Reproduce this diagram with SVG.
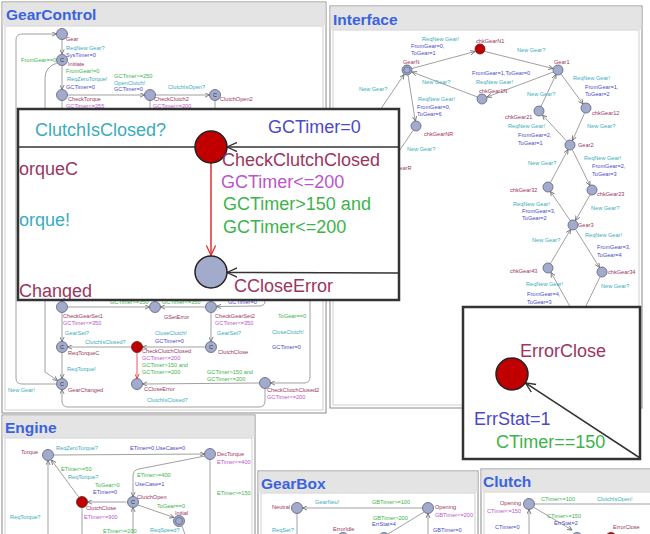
<svg xmlns="http://www.w3.org/2000/svg" width="650" height="534" viewBox="0 0 650 534">
<defs>
<marker id="a" viewBox="0 0 8 8" refX="7.5" refY="4" markerWidth="5" markerHeight="5" orient="auto" markerUnits="userSpaceOnUse"><path d="M0,0.5 L7.5,4 L0,7.5" fill="none" stroke="#6a6a6a" stroke-width="1.3"/></marker>
<marker id="ar" viewBox="0 0 8 8" refX="7.5" refY="4" markerWidth="5" markerHeight="5" orient="auto" markerUnits="userSpaceOnUse"><path d="M0,0.5 L7.5,4 L0,7.5" fill="none" stroke="#e03030" stroke-width="1.3"/></marker>
<marker id="A" viewBox="0 0 12 12" refX="11" refY="6" markerWidth="11" markerHeight="11" orient="auto" markerUnits="userSpaceOnUse"><path d="M0,1 L11,6 L0,11" fill="none" stroke="#333" stroke-width="1.4"/></marker>
<marker id="AR" viewBox="0 0 12 12" refX="11" refY="6" markerWidth="11" markerHeight="11" orient="auto" markerUnits="userSpaceOnUse"><path d="M0,1 L11,6 L0,11" fill="none" stroke="#e03030" stroke-width="1.4"/></marker>
<clipPath id="ci"><rect x="19" y="110" width="379" height="189"/></clipPath>
</defs>
<style>
text{font-family:"Liberation Sans",Arial,sans-serif}
.s{font-size:5.6px}
.L{font-size:18px}
.n{fill:#9c3560}.y{fill:#3aacbc}.b{fill:#4a4ac8}.g{fill:#3cb44a}.i{fill:#bb55cc}
.ti{font-size:15.5px;font-weight:bold;fill:#3b63e0}
.nd{fill:#a3abcc;stroke:#5a6080;stroke-width:0.8}
.rd{fill:#c00000;stroke:#5a2020;stroke-width:0.8}
.e{fill:none;stroke:#888;stroke-width:0.8}
.er{fill:none;stroke:#e03030;stroke-width:0.8}
.c{font-size:5.5px;fill:#333;text-anchor:middle}
.pan{fill:#fff;stroke:#8a8a8a;stroke-width:1}
.hd{fill:#e4e4e4}
.cv{fill:#fff;stroke:#c4c4c4;stroke-width:0.8}
.bx{fill:#fff;stroke:#333;stroke-width:2.5}
.bl{fill:none;stroke:#333;stroke-width:1.5}
.bn{fill:#a3abcc;stroke:#222;stroke-width:1.5}
.br{fill:#c00000;stroke:#222;stroke-width:1.5}
</style>
<rect width="650" height="534" fill="#fff"/>

<!-- ===== GearControl panel ===== -->
<g id="panel-gearcontrol">
<rect class="pan" x="2" y="2" width="324" height="411"/>
<rect class="hd" x="2.5" y="2.5" width="323" height="23"/>
<rect class="cv" x="5" y="26" width="318" height="384"/>
<text class="ti" x="6" y="20">GearControl</text>
</g>
<g id="gc-connectors">
<path class="e" d="M62,39.5 L62,54" marker-end="url(#a)"/>
<path class="e" d="M62,66 L62,89.5" marker-end="url(#a)"/>
<path class="e" d="M67.5,95 L144.5,95" marker-end="url(#a)"/>
<path class="e" d="M155.5,95 L209.5,95" marker-end="url(#a)"/>
<path class="e" d="M62,100.5 L62,301.5" marker-end="url(#a)"/>
<path class="e" d="M150,100.5 L150,140"/>
<path class="e" d="M215,100.5 L215,120 L304,130 Q310,131 310,137 L310,377 Q310,383 304,383 L270.5,383" marker-end="url(#a)"/>
<path class="e" d="M56.5,384 L22,384 Q16,384 16,378 L16,40 Q16,34 22,34 L56.5,34" marker-end="url(#a)"/>
<path class="e" d="M57,63 Q45,67 45,78 L45,372 L57.5,380.5" marker-end="url(#a)"/>
<path class="e" d="M67.5,307 L149.5,307" marker-end="url(#a)"/>
<path class="e" d="M205.5,307 L160.5,307" marker-end="url(#a)"/>
<path class="e" d="M265,290 L265,301 Q265,306 259,306 L216.5,306.5" marker-end="url(#a)"/>
<path class="e" d="M62,312.5 L62,341.5" marker-end="url(#a)"/>
<path class="e" d="M211,312.5 L211,341.5" marker-end="url(#a)"/>
<path class="e" d="M205.5,347 L142.5,347" marker-end="url(#a)"/>
<path class="e" d="M131.5,347 L67.5,347" marker-end="url(#a)"/>
<path class="e" d="M62,352.5 L62,378.5" marker-end="url(#a)"/>
<path class="er" d="M137,352.5 L137,378.5" marker-end="url(#ar)"/>
<path class="e" d="M259.5,383 L142.5,384" marker-end="url(#a)"/>
<path class="e" d="M265,388.5 L265,401 Q265,407 259,407 L68,407 Q62,407 62,401 L62,389.5" marker-end="url(#a)"/>
</g>
<g id="gc-nodes">
<g id="gc-gear"><circle class="nd" cx="62" cy="34" r="5.5"/></g>
<g id="gc-initiate"><circle class="nd" cx="62" cy="60" r="5.5"/><text class="c" x="62" y="62">C</text></g>
<g id="gc-checktorque"><circle class="nd" cx="62" cy="95" r="5.5"/></g>
<g id="gc-checkclutch2"><circle class="nd" cx="150" cy="95" r="5.5"/></g>
<g id="gc-clutchopen2"><circle class="nd" cx="215" cy="95" r="5.5"/><text class="c" x="215" y="97">C</text></g>
<g id="gc-checkgearset1"><circle class="nd" cx="62" cy="307" r="5.5"/></g>
<g id="gc-gseterror"><circle class="nd" cx="155" cy="307" r="5.5"/></g>
<g id="gc-checkgearset2"><circle class="nd" cx="211" cy="307" r="5.5"/></g>
<g id="gc-reqtorquec"><circle class="nd" cx="62" cy="347" r="5.5"/><text class="c" x="62" y="349">C</text></g>
<g id="gc-checkclutchclosed"><circle class="rd" cx="137" cy="347" r="5.5"/></g>
<g id="gc-clutchclose"><circle class="nd" cx="211" cy="347" r="5.5"/><text class="c" x="211" y="349">C</text></g>
<g id="gc-gearchanged"><circle class="nd" cx="62" cy="384" r="5.5"/><text class="c" x="62" y="386">C</text></g>
<g id="gc-ccloseerror"><circle class="nd" cx="137" cy="384" r="5.5"/></g>
<g id="gc-checkclutchclosed2"><circle class="nd" cx="265" cy="383" r="5.5"/></g>
</g>
<g id="gc-labels" class="s">
<text class="n" x="66" y="41">Gear</text>
<text class="y" x="66" y="50">ReqNew Gear?</text>
<text class="b" x="66" y="56.5">SysTimer=0</text>
<text class="g" x="21" y="62">FromGear==0</text>
<text class="n" x="68" y="66">Initiate</text>
<text class="g" x="66" y="73">FromGear!=0</text>
<text class="y" x="67" y="81">ReqZeroTorque!</text>
<text class="b" x="66" y="89">GCTimer=0</text>
<text class="g" x="114" y="78">GCTimer>=250</text>
<text class="y" x="114" y="84.5">OpenClutch!</text>
<text class="b" x="114" y="91">GCTimer=0</text>
<text class="y" x="168" y="89">ClutchIsOpen?</text>
<text class="n" x="68" y="101">CheckTorque</text>
<text class="i" x="66" y="108">GCTimer&lt;=255</text>
<text class="n" x="154" y="101">CheckClutch2</text>
<text class="i" x="153" y="108">GCTimer&lt;=200</text>
<text class="n" x="220" y="101">ClutchOpen2</text>
<text class="g" x="110" y="304">GCTimer>=350</text>
<text class="g" x="162" y="304">GCTimer&lt;=350</text>
<text class="b" x="228" y="304">GCTimer=0</text>
<text class="n" x="63" y="318">CheckGearSet1</text>
<text class="i" x="63" y="325">GCTimer&lt;=350</text>
<text class="n" x="164" y="319">GSetError</text>
<text class="n" x="215" y="318">CheckGearSet2</text>
<text class="i" x="215" y="325">GCTimer&lt;=350</text>
<text class="g" x="278" y="318">ToGear==0</text>
<text class="y" x="65" y="335">GearSet?</text>
<text class="y" x="155" y="335">CloseClutch!</text>
<text class="b" x="155" y="343">GCTimer=0</text>
<text class="y" x="217" y="335">GearSet?</text>
<text class="y" x="272" y="334">CloseClutch!</text>
<text class="b" x="272" y="349">GCTimer=0</text>
<text class="y" x="85" y="344">ClutchIsClosed?</text>
<text class="n" x="68" y="355">ReqTorqueC</text>
<text class="n" x="142" y="353">CheckClutchClosed</text>
<text class="i" x="142" y="360">GCTimer&lt;=200</text>
<text class="g" x="142" y="366.5">GCTimer>150 and</text>
<text class="g" x="142" y="374">GCTimer&lt;=200</text>
<text class="n" x="218" y="354">ClutchClose</text>
<text class="y" x="67" y="371">ReqTorque!</text>
<text class="g" x="207" y="374">GCTimer>150 and</text>
<text class="g" x="207" y="381">GCTimer&lt;=200</text>
<text class="y" x="8" y="392">New Gear!</text>
<text class="n" x="68" y="392">GearChanged</text>
<text class="n" x="144" y="391">CCloseError</text>
<text class="n" x="267" y="392">CheckClutchClosed2</text>
<text class="i" x="267" y="399">GCTimer&lt;=200</text>
<text class="y" x="147" y="402">ClutchIsClosed?</text>
</g>

<!-- ===== Interface panel ===== -->
<g id="panel-interface">
<rect class="pan" x="330" y="6" width="312" height="402"/>
<rect class="hd" x="330.5" y="6.5" width="311" height="23"/>
<rect class="cv" x="333" y="30" width="306" height="375"/>
<text class="ti" x="333" y="25">Interface</text>
</g>
<g id="if-connectors">
<path class="e" d="M412,68.5 L475,51.5" marker-end="url(#a)"/>
<path class="e" d="M485,51.5 L553,68.5" marker-end="url(#a)"/>
<path class="e" d="M553.5,72 L487,97" marker-end="url(#a)"/>
<path class="e" d="M477.5,97 L412,72" marker-end="url(#a)"/>
<path class="e" d="M408,75 L415.3,121" marker-end="url(#a)"/>
<path class="e" d="M413,130.5 L385,172"/>
<path class="e" d="M368,128 L404,74.5" marker-end="url(#a)"/>
<path class="e" d="M561,74 L583,104" marker-end="url(#a)"/>
<path class="e" d="M584.5,113 L572.5,140.5" marker-end="url(#a)"/>
<path class="e" d="M567,141.5 L542.5,115" marker-end="url(#a)"/>
<path class="e" d="M541,106.5 L556,74.5" marker-end="url(#a)"/>
<path class="e" d="M572.5,150 L590,185.5" marker-end="url(#a)"/>
<path class="e" d="M590,195 L575.5,220.5" marker-end="url(#a)"/>
<path class="e" d="M570.5,221 L550.5,191.5" marker-end="url(#a)"/>
<path class="e" d="M550.5,182.5 L568,149.5" marker-end="url(#a)"/>
<path class="e" d="M576,230 L599.5,267.5" marker-end="url(#a)"/>
<path class="e" d="M600,277 L583,312"/>
<path class="e" d="M573,312 L551,272.5" marker-end="url(#a)"/>
<path class="e" d="M550.5,263.5 L570.5,229.5" marker-end="url(#a)"/>
</g>
<g id="if-nodes">
<g id="if-chkgearn1"><circle class="rd" cx="480" cy="49" r="5"/></g>
<g id="if-gearn"><circle class="nd" cx="407" cy="70" r="5"/><circle fill="none" stroke="#5a6080" stroke-width="0.7" cx="407" cy="70" r="3.2"/></g>
<g id="if-gear1"><circle class="nd" cx="558" cy="70" r="5"/></g>
<g id="if-chkgear1n"><circle class="nd" cx="482" cy="99" r="5"/></g>
<g id="if-chkgearnr"><circle class="nd" cx="416" cy="126" r="5"/></g>
<g id="if-chkgear12"><circle class="nd" cx="586" cy="108" r="5"/></g>
<g id="if-chkgear21"><circle class="nd" cx="539" cy="111" r="5"/></g>
<g id="if-gear2"><circle class="nd" cx="570" cy="145" r="5"/></g>
<g id="if-chkgear32"><circle class="nd" cx="548" cy="187" r="5"/></g>
<g id="if-chkgear23"><circle class="nd" cx="592" cy="190" r="5"/></g>
<g id="if-gear3"><circle class="nd" cx="573" cy="225" r="5"/></g>
<g id="if-chkgear43"><circle class="nd" cx="548" cy="268" r="5"/></g>
<g id="if-chkgear34"><circle class="nd" cx="602" cy="272" r="5"/></g>
</g>
<g id="if-labels" class="s">
<text class="y" x="422" y="41">ReqNew Gear!</text>
<text class="b" x="411" y="48">FromGear=0,</text>
<text class="b" x="411" y="55">ToGear=1</text>
<text class="n" x="476" y="43">chkGearN1</text>
<text class="y" x="517" y="52">New Gear?</text>
<text class="n" x="403" y="64">GearN</text>
<text class="n" x="554" y="64">Gear1</text>
<text class="b" x="472" y="75">FromGear=1,ToGear=0</text>
<text class="y" x="476" y="84">ReqNew Gear!</text>
<text class="y" x="422" y="84">New Gear?</text>
<text class="n" x="479" y="93">chkGear1N</text>
<text class="y" x="359" y="91">New Gear?</text>
<text class="y" x="573" y="80">ReqNew Gear!</text>
<text class="b" x="585" y="89">FromGear=1,</text>
<text class="b" x="585" y="96">ToGear=2</text>
<text class="y" x="527" y="96">New Gear?</text>
<text class="y" x="418" y="101">ReqNew Gear!</text>
<text class="b" x="417" y="109">FromGear=0,</text>
<text class="b" x="417" y="116">ToGear=6</text>
<text class="n" x="592" y="115">chkGear12</text>
<text class="n" x="505" y="119">chkGear21</text>
<text class="y" x="508" y="128">ReqNew Gear!</text>
<text class="y" x="587" y="128">New Gear?</text>
<text class="n" x="424" y="136">chkGearNR</text>
<text class="b" x="518" y="137">FromGear=2,</text>
<text class="b" x="518" y="145">ToGear=1</text>
<text class="n" x="578" y="147">Gear2</text>
<text class="y" x="407" y="151">New Gear?</text>
<text class="n" x="395" y="170">GearR</text>
<text class="y" x="528" y="165">New Gear?</text>
<text class="y" x="584" y="160">ReqNew Gear!</text>
<text class="b" x="592" y="168">FromGear=2,</text>
<text class="b" x="592" y="176">ToGear=3</text>
<text class="n" x="510" y="192">chkGear32</text>
<text class="n" x="597" y="196">chkGear23</text>
<text class="y" x="513" y="206">ReqNew Gear!</text>
<text class="b" x="522" y="213">FromGear=3,</text>
<text class="b" x="522" y="220">ToGear=2</text>
<text class="y" x="591" y="210">New Gear?</text>
<text class="n" x="578" y="227">Gear3</text>
<text class="y" x="585" y="237">ReqNew Gear!</text>
<text class="y" x="532" y="242">New Gear?</text>
<text class="b" x="597" y="249">FromGear=3,</text>
<text class="b" x="597" y="257">ToGear=4</text>
<text class="n" x="510" y="273">chkGear43</text>
<text class="n" x="608" y="274">chkGear34</text>
<text class="y" x="526" y="286">ReqNew Gear!</text>
<text class="y" x="601" y="288">New Gear?</text>
<text class="b" x="527" y="296">FromGear=4,</text>
<text class="b" x="527" y="304">ToGear=3</text>
</g>

<!-- ===== Engine panel ===== -->
<g id="panel-engine">
<rect class="pan" x="2" y="415" width="253" height="125"/>
<rect class="hd" x="2.5" y="415.5" width="252" height="22"/>
<rect class="cv" x="5" y="438" width="247" height="100"/>
<text class="ti" x="5" y="433">Engine</text>
</g>
<g id="en-connectors">
<path class="e" d="M53.5,455 L204.5,454" marker-end="url(#a)"/>
<path class="e" d="M205,456 L139,469 Q133,470 133,476 L133,496.5" marker-end="url(#a)"/>
<path class="e" d="M126.5,502 L87.5,502" marker-end="url(#a)"/>
<path class="e" d="M79,497.5 L51.5,460" marker-end="url(#a)"/>
<path class="e" d="M138,505 L174,517.5" marker-end="url(#a)"/>
<path class="e" d="M48,540 L48,460.5" marker-end="url(#a)"/>
<path class="e" d="M82,507.5 L82,540"/>
<path class="e" d="M133,540 L133,507.5" marker-end="url(#a)"/>
<path class="e" d="M210,459.5 L210,540"/>
<path class="e" d="M182,526 L187,540"/>
</g>
<g id="en-nodes">
<g id="en-torque"><circle class="nd" cx="48" cy="455" r="5.5"/></g>
<g id="en-dectorque"><circle class="nd" cx="210" cy="454" r="5.5"/></g>
<g id="en-clutchclose"><circle class="rd" cx="82" cy="502" r="5.5"/></g>
<g id="en-clutchopen"><circle class="nd" cx="133" cy="502" r="5.5"/><text class="c" x="133" y="504">C</text></g>
<g id="en-initial"><circle class="nd" cx="179" cy="521" r="5.5"/><circle fill="none" stroke="#5a6080" stroke-width="0.7" cx="179" cy="521" r="3.5"/></g>
</g>
<g id="en-labels" class="s">
<text class="n" x="21" y="454">Torque</text>
<text class="y" x="56" y="450">ReqZeroTorque?</text>
<text class="b" x="130" y="450">ETimer=0,UseCase=0</text>
<text class="n" x="217" y="456">DecTorque</text>
<text class="i" x="217" y="464">ETimer&lt;=400</text>
<text class="g" x="61" y="471">ETimer>=50</text>
<text class="y" x="68" y="479">ReqTorque?</text>
<text class="g" x="137" y="477">ETimer>=400</text>
<text class="b" x="135" y="486">UseCase=1</text>
<text class="g" x="95" y="487">ToGear>0</text>
<text class="b" x="93" y="494">ETimer=0</text>
<text class="g" x="217" y="495">ETimer>=150</text>
<text class="n" x="137" y="499">ClutchOpen</text>
<text class="n" x="86" y="510">ClutchClose</text>
<text class="i" x="84" y="519">ETimer&lt;=900</text>
<text class="g" x="157" y="508">ToGear==0</text>
<text class="n" x="175" y="515">Initial</text>
<text class="y" x="10" y="519">ReqTorque?</text>
<text class="g" x="103" y="533">ETimer>=200</text>
<text class="y" x="150" y="532">ReqSpeed?</text>
</g>

<!-- ===== GearBox panel ===== -->
<g id="panel-gearbox">
<rect class="pan" x="258" y="471" width="220" height="70"/>
<rect class="hd" x="258.5" y="471.5" width="219" height="21"/>
<rect class="cv" x="261" y="493" width="214" height="45"/>
<text class="ti" x="261" y="489">GearBox</text>
</g>
<g id="gb-connectors">
<path class="e" d="M422.5,508 L302.5,508" marker-end="url(#a)"/>
<path class="e" d="M297,513.5 L297,540"/>
<path class="e" d="M428,540 L428,513.5" marker-end="url(#a)"/>
<path class="e" d="M424,512 L388,534"/>
</g>
<g id="gb-nodes">
<g id="gb-neutral"><circle class="nd" cx="297" cy="508" r="5.5"/></g>
<g id="gb-opening"><circle class="nd" cx="428" cy="508" r="5.5"/></g>
<g id="gb-erroridle"><circle class="nd" cx="343" cy="538" r="5.5"/></g>
<g id="gb-node4"><circle class="nd" cx="384" cy="538" r="5.5"/></g>
</g>
<g id="gb-labels" class="s">
<text class="n" x="272" y="509">Neutral</text>
<text class="y" x="315" y="504">GearNeu!</text>
<text class="g" x="372" y="504">GBTimer>=100</text>
<text class="n" x="435" y="509">Opening</text>
<text class="i" x="435" y="517">GBTimer&lt;=200</text>
<text class="g" x="373" y="520">GBTimer>200</text>
<text class="b" x="372" y="526">ErrStat=4</text>
<text class="y" x="272" y="532">ReqSet?</text>
<text class="n" x="333" y="531">ErrorIdle</text>
<text class="b" x="433" y="532">GBTimer=0</text>
</g>

<!-- ===== Clutch panel ===== -->
<g id="panel-clutch">
<rect class="pan" x="481" y="469" width="175" height="72"/>
<rect class="hd" x="481.5" y="469.5" width="174" height="22"/>
<rect class="cv" x="484" y="492" width="170" height="46"/>
<text class="ti" x="483" y="487">Clutch</text>
</g>
<g id="cl-connectors">
<path class="e" d="M534.5,504 L650,504"/>
<path class="e" d="M534,507.5 L572,530" marker-end="url(#a)"/>
<path class="e" d="M529,540 L529,509.5" marker-end="url(#a)"/>
</g>
<g id="cl-nodes">
<g id="cl-opening"><circle class="nd" cx="529" cy="504" r="5.5"/></g>
<g id="cl-node2"><circle class="nd" cx="577" cy="538" r="5.5"/></g>
<g id="cl-errorclose"><circle class="rd" cx="611" cy="538" r="5.5"/></g>
</g>
<g id="cl-labels" class="s">
<text class="n" x="500" y="505">Opening</text>
<text class="i" x="487" y="513">CTimer&lt;=150</text>
<text class="g" x="541" y="501">CTimer>=100</text>
<text class="y" x="597" y="501">ClutchIsOpen!</text>
<text class="g" x="547" y="518">CTimer>=150</text>
<text class="b" x="554" y="525">ErrStat=2</text>
<text class="b" x="495" y="529">CTimer=0</text>
<text class="n" x="613" y="529">ErrorClose</text>
</g>

<!-- ===== Zoom insert: CheckClutchClosed ===== -->
<g id="insert-checkclutchclosed">
<rect class="bx" x="18" y="109" width="381" height="191"/>
<g clip-path="url(#ci)">
<g id="insert-connectors">
<path class="bl" d="M195,147 L19,147"/>
<path class="bl" d="M399,147 L227,147" marker-end="url(#A)"/>
<path class="bl" d="M399,273 L227,272.5" marker-end="url(#A)"/>
<path fill="none" stroke="#e03030" stroke-width="1.5" d="M211,163 L211,255.5" marker-end="url(#AR)"/>
</g>
<g id="insert-node-checkclutchclosed"><circle class="br" cx="211" cy="147" r="16"/></g>
<g id="insert-node-ccloseerror"><circle class="bn" cx="211" cy="272" r="16"/></g>
<g class="L">
<text class="y" x="35" y="136">ClutchIsClosed?</text>
<text class="b" x="268" y="133">GCTimer=0</text>
<text class="n" x="222" y="166">CheckClutchClosed</text>
<text class="i" x="221" y="188">GCTimer&lt;=200</text>
<text class="g" x="223" y="210">GCTimer>150 and</text>
<text class="g" x="223" y="233">GCTimer&lt;=200</text>
<text class="n" x="19" y="175">orqueC</text>
<text class="y" x="19" y="226">orque!</text>
<text class="n" x="19" y="297">Changed</text>
<text class="n" x="234" y="292">CCloseError</text>
</g>
</g>
</g>

<!-- ===== Zoom insert: ErrorClose ===== -->
<g id="insert-errorclose">
<rect class="bx" x="463" y="307" width="177" height="152"/>
<path class="bl" d="M640,458 L525.4,382.8" marker-end="url(#A)"/>
<g id="insert-node-errorclose"><circle class="br" cx="512" cy="374" r="16"/></g>
<g class="L">
<text class="n" x="520" y="357">ErrorClose</text>
<text class="b" x="474" y="425">ErrStat=1</text>
<text class="g" x="496" y="448">CTimer==150</text>
</g>
</g>
</svg>
